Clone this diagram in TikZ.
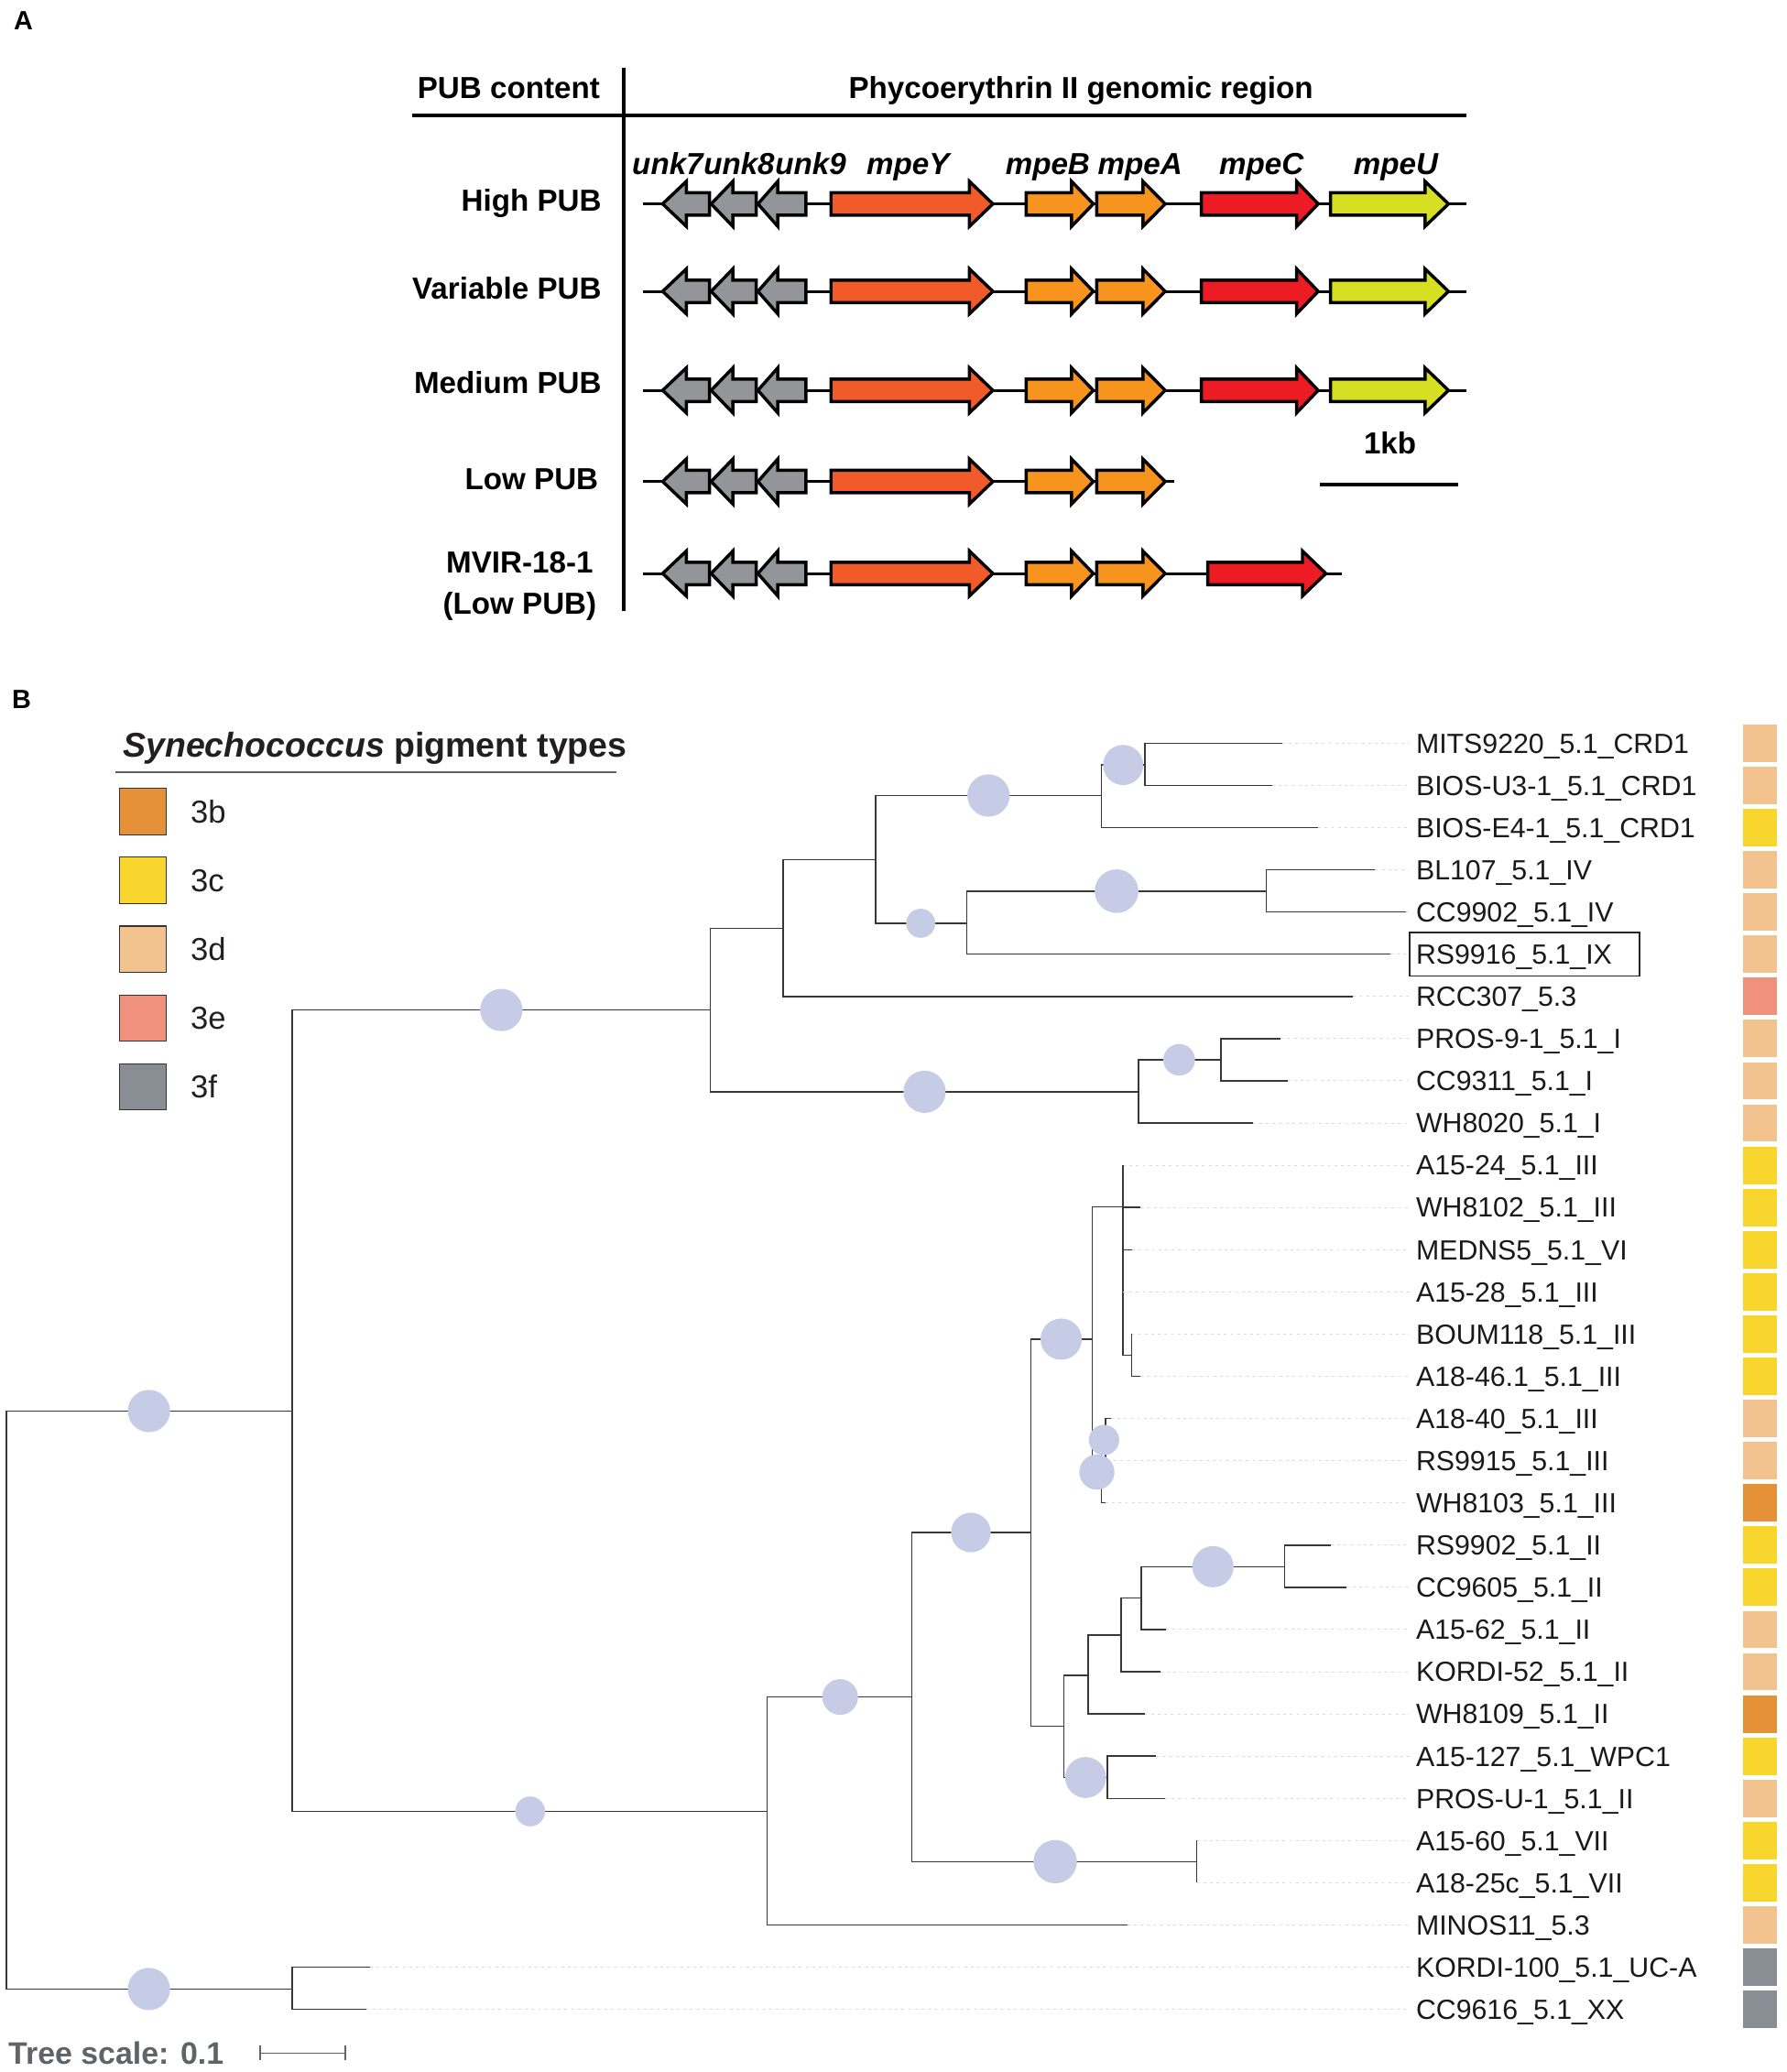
\documentclass[tikz,border=0pt]{standalone}
\usepackage{fontspec}
\setmainfont{Liberation Sans}
\usetikzlibrary{positioning}

\definecolor{unkgray}{RGB}{147,149,152}
\definecolor{mpey}{RGB}{241,90,41}
\definecolor{mpeba}{RGB}{247,148,29}
\definecolor{mpec}{RGB}{237,28,36}
\definecolor{mpeu}{RGB}{215,223,35}
\definecolor{pb}{RGB}{229,145,55}
\definecolor{pc}{RGB}{248,214,46}
\definecolor{pd}{RGB}{242,195,143}
\definecolor{pe}{RGB}{239,145,124}
\definecolor{pf}{RGB}{136,142,148}
\definecolor{bubble}{RGB}{198,203,230}
\definecolor{treeline}{RGB}{55,55,55}
\definecolor{leadergray}{RGB}{218,218,218}
\definecolor{titlegray}{RGB}{35,31,32}
\definecolor{rulegray}{RGB}{95,95,95}
\definecolor{scalegray}{RGB}{95,100,104}

% gene arrows: {left}{head base}{tip}{y}{colour}
\newcommand{\geneR}[5]{\filldraw[gene,fill=#5] (#1,{#4-8.5}) -- (#2,{#4-8.5}) -- (#2,{#4-17}) -- (#3,#4) -- (#2,{#4+17}) -- (#2,{#4+8.5}) -- (#1,{#4+8.5}) -- cycle;}
% {tip}{head base}{right}{y}{colour}
\newcommand{\geneL}[5]{\filldraw[gene,fill=#5] (#1,#4) -- (#2,{#4-17}) -- (#2,{#4-8.5}) -- (#3,{#4-8.5}) -- (#3,{#4+8.5}) -- (#2,{#4+8.5}) -- (#2,{#4+17}) -- cycle;}

\begin{document}
\begin{tikzpicture}[x=1pt,y=-1pt,
	txt/.style={inner sep=0pt,text depth=0pt},
	panel/.style={txt,font=\bfseries\fontsize{20}{24}\selectfont,text height=14.3pt},
	heading/.style={txt,font=\bfseries\fontsize{23}{27}\selectfont,text height=16.5pt},
	genelab/.style={txt,font=\bfseries\itshape\fontsize{23}{27}\selectfont,text height=16.5pt},
	rule/.style={line width=2.8pt},
	spine/.style={line width=2.2pt},
	gene/.style={draw=black,line width=2.4pt,line join=miter},
	branch/.style={draw=treeline,line width=1pt},
	leader/.style={draw=leadergray,line width=0.7pt,dash pattern=on 2pt off 3pt},
	leaf/.style={txt,anchor=west,text=black!90,font=\fontsize{21}{25}\selectfont,text height=15pt},
	pig/.style={inner sep=0pt,minimum width=25.2pt,minimum height=28.3pt},
	legbox/.style={draw=black!80,line width=0.8pt,minimum width=35.4pt,minimum height=35pt,inner sep=0pt},
	legtext/.style={txt,text=titlegray,font=\fontsize{24}{28}\selectfont,text height=17.2pt},
	blob/.style={fill=bubble}]

	\useasboundingbox (0,0) rectangle (1352,1568);

	%%% A
	\node[panel] (lblA) at (17.7,15.5) {A};
	\node[heading] (pubhead) at (385,66) {PUB content};
	\node[heading] (regionhead) at (818,66) {Phycoerythrin II genomic region};
	\draw[rule] (311.7,87.6) -- (1109.6,87.6); %header rule
	\draw[rule] (472.3,51) -- (472.3,462.7); %column rule

	\node[heading,anchor=east] (high) at (455.4,151.7) {High PUB};
	\node[heading,anchor=east] (variable) at (455.4,218.2) {Variable PUB};
	\node[heading,anchor=east] (medium) at (455.4,289.4) {Medium PUB};
	\node[heading,anchor=east] (low) at (453,362.1) {Low PUB};
	\node[heading] (mvir) at (393.3,425.6) {MVIR-18-1};
	\node[heading] (mvirlow) at (393.3,456.6) {(Low PUB)};

	\node[genelab] (unk7) at (505.3,124) {unk7};
	\node[genelab,right=0pt of unk7] (unk8) {unk8};
	\node[genelab,right=0pt of unk8] (unk9) {unk9};
	\node[genelab] (mpeY) at (687.2,124) {mpeY};
	\node[genelab] (mpeB) at (792.9,124) {mpeB};
	\node[genelab] (mpeA) at (862.8,124) {mpeA};
	\node[genelab] (mpeC) at (954.7,124) {mpeC};
	\node[genelab] (mpeU) at (1056.4,124) {mpeU};

	\foreach \y/\e in {154.3/1109.6,220.5/1109.6,295.4/1109.6,364.4/888.4,434/1015.7}{
		\draw[spine] (486.9,\y) -- (\e,\y);
		\geneL{501.5}{519.4}{536.9}{\y}{unkgray}
		\geneL{538.2}{554.6}{572.3}{\y}{unkgray}
		\geneL{573.6}{588.6}{609.9}{\y}{unkgray}
		\geneR{628.9}{733.7}{751.4}{\y}{mpey}
		\geneR{776.6}{811}{827.4}{\y}{mpeba}
		\geneR{830}{865}{881.8}{\y}{mpeba}
	}
	\foreach \y in {154.3,220.5,295.4}{
		\geneR{909.2}{981.3}{997.6}{\y}{mpec}
		\geneR{1007}{1078.5}{1096.2}{\y}{mpeu}
	}
	\geneR{914}{985.7}{1003.4}{434}{mpec}

	\node[heading] (kb) at (1052,335.2) {1kb};
	\draw[rule] (999,366.5) -- (1103.8,366.5); %scale bar

	%%% B
	\node[panel] (lblB) at (16.4,529.3) {B};
	\node[txt,anchor=west,text=titlegray,font=\bfseries\fontsize{26}{30}\selectfont,text height=18.6pt] (legtitle) at (92.9,563.3) {\textit{Synechococcus} pigment types};
	\draw[draw=rulegray,line width=1.3pt] (87.6,584.4) -- (466.5,584.4);
	\foreach \k/\c [count=\n] in {3b/pb,3c/pc,3d/pd,3e/pe,3f/pf}{
		\node[legbox,fill=\c] (key\k) at (108.3,{614.1+52.1*(\n-1)}) {};
		\node[legtext,right=17.7pt of key\k] (keytext\k) {\k};
	}

	% internal nodes
	\coordinate (n0) at (5,1286.5);
	\coordinate (n1) at (221,1067.8);
	\coordinate (nb) at (221,1505.2);
	\coordinate (n2) at (537.6,764.3);
	\coordinate (n3) at (592.6,702.6);
	\coordinate (n4) at (662.6,650.6);
	\coordinate (n5) at (833.4,602);
	\coordinate (n6) at (866.5,578.9);
	\coordinate (n7) at (731.6,698.7);
	\coordinate (n8) at (958.4,674.4);
	\coordinate (n9) at (861.6,826.2);
	\coordinate (n10) at (924,802);
	\coordinate (n11) at (580.7,1370.8);
	\coordinate (n12) at (690.2,1284.2);
	\coordinate (n13) at (905.7,1408.8);
	\coordinate (n14) at (780,1159.7);
	\coordinate (n15) at (805,1306.3);
	\coordinate (n16) at (838.2,1345.1);
	\coordinate (n17) at (823.4,1267.7);
	\coordinate (n18) at (848.6,1237.2);
	\coordinate (n19) at (863.7,1209.4);
	\coordinate (n20) at (972.3,1185.6);
	\coordinate (n21) at (826.7,1013.4);
	\coordinate (n22) at (849.8,913.4);
	\coordinate (n23) at (833.6,1114);
	\coordinate (n24) at (836.6,1089.7);
	\coordinate (n25) at (856.3,1025.7);

	\foreach \a/\b in {n0/n1,n0/nb,n1/n2,n1/n11,n2/n3,n2/n9,n3/n4,n4/n5,n4/n7,n5/n6,n7/n8,n9/n10,
		n11/n12,n12/n14,n12/n13,n14/n21,n14/n15,n15/n17,n15/n16,n17/n18,n18/n19,n19/n20,
		n21/n22,n21/n23,n22/n25,n23/n24}
		\draw[branch] (\a) |- (\b);

	% leaves
	\foreach \i/\tx/\up/\leafname/\pigcol in {
		0/970.5/n6/MITS9220\_5.1\_CRD1/pd,
		1/962.7/n6/BIOS-U3-1\_5.1\_CRD1/pd,
		2/997.6/n5/BIOS-E4-1\_5.1\_CRD1/pc,
		3/1040.8/n8/BL107\_5.1\_IV/pd,
		4/1064/n8/CC9902\_5.1\_IV/pd,
		5/1052/n7/RS9916\_5.1\_IX/pd,
		6/1024.1/n3/RCC307\_5.3/pe,
		7/969.2/n10/PROS-9-1\_5.1\_I/pd,
		8/974.4/n10/CC9311\_5.1\_I/pd,
		9/948/n9/WH8020\_5.1\_I/pd,
		10/849.8/n22/A15-24\_5.1\_III/pc,
		11/863.2/n22/WH8102\_5.1\_III/pc,
		12/856.7/n22/MEDNS5\_5.1\_VI/pc,
		13/849.8/n22/A15-28\_5.1\_III/pc,
		14/856.3/n25/BOUM118\_5.1\_III/pc,
		15/863.2/n25/A18-46.1\_5.1\_III/pc,
		16/840.6/n24/A18-40\_5.1\_III/pd,
		17/838/n24/RS9915\_5.1\_III/pd,
		18/836.6/n23/WH8103\_5.1\_III/pb,
		19/1007.2/n20/RS9902\_5.1\_II/pc,
		20/1018.8/n20/CC9605\_5.1\_II/pc,
		21/882.4/n19/A15-62\_5.1\_II/pd,
		22/878.2/n18/KORDI-52\_5.1\_II/pd,
		23/866.2/n17/WH8109\_5.1\_II/pb,
		24/874.8/n16/A15-127\_5.1\_WPC1/pc,
		25/881.7/n16/PROS-U-1\_5.1\_II/pd,
		26/905.7/n13/A15-60\_5.1\_VII/pc,
		27/905.7/n13/A18-25c\_5.1\_VII/pc,
		28/853.1/n11/MINOS11\_5.3/pd,
		29/279.8/nb/KORDI-100\_5.1\_UC-A/pf,
		30/277.3/nb/CC9616\_5.1\_XX/pf}{
		\pgfmathsetmacro{\ly}{562.4+31.94*\i}
		\coordinate (t\i) at (\tx,\ly);
		\node[leaf] (l\i) at (1071.5,\ly) {\leafname};
		\draw[leader,shorten >=5pt] (t\i) -- (l\i.west);
		\draw[branch] (\up) |- (t\i);
		\node[pig,fill=\pigcol] (c\i) at (1332,\ly) {};
	}
	\draw[line width=1.3pt,draw=black!85] (1066.8,705.7) rectangle (1240.8,738.6); %RS9916 box

	% support bubbles
	\foreach \bx/\by/\br in {112.7/1067.8/16,112.7/1505.2/16,379.4/764.3/16,401.2/1370.8/11.3,
		748.1/602/16,850/578.9/15.2,696.8/698.7/11,845/674.4/16.5,699.7/826.2/16,892.4/802/12,
		635.8/1284.2/13.5,798.6/1408.8/16.4,734.8/1159.7/15,803.1/1013.4/15.6,835.5/1089.7/11.5,
		830.1/1114/13.3,821.6/1345.1/15.5,918/1185.6/15.6}
		\fill[blob] (\bx,\by) circle[radius=\br];

	% tree scale
	\node[txt,anchor=west,text=scalegray,font=\bfseries\fontsize{23.5}{28}\selectfont,text height=16.8pt] (treescale) at (6.2,1553.6) {Tree scale: 0.1};
	\coordinate (sb1) at (196.9,1553.6);
	\coordinate (sb2) at (261.2,1553.6);
	\draw[scalegray,line width=1pt] (sb1) -- (sb2);
	\draw[scalegray,line width=1pt] ([yshift=-5.5pt]sb1) -- ([yshift=5.5pt]sb1);
	\draw[scalegray,line width=1pt] ([yshift=-5.5pt]sb2) -- ([yshift=5.5pt]sb2);
\end{tikzpicture}
\end{document}
